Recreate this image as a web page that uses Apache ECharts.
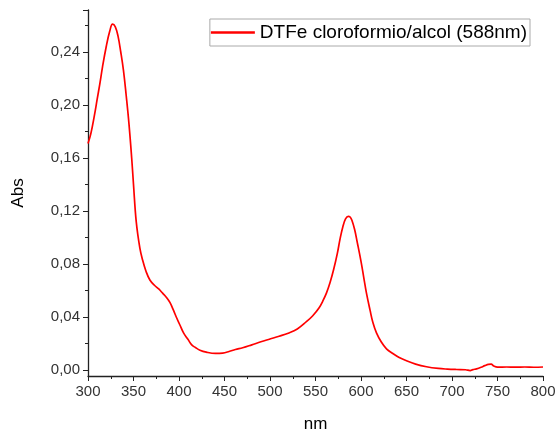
<!DOCTYPE html>
<html>
<head>
<meta charset="utf-8">
<script src="https://cdn.jsdelivr.net/npm/echarts@6/dist/echarts.min.js"></script>
<style>
  html, body { margin: 0; padding: 0; background: #fff; }
  #chart { width: 557px; height: 431px; }
</style>
</head>
<body>
<div id="chart"></div>
<script>
// espectro UV-Vis
var seriesName = 'DTFe cloroformio/alcol (588nm)';
var wavelength = [300, 303, 307, 310, 313, 316, 320, 324, 327, 330, 333, 336, 339, 342, 345, 348, 350, 353, 357, 360, 364, 368, 373, 378, 382, 386, 390, 394, 397, 401, 405, 410, 414, 418, 423, 430, 440, 448, 455, 462, 470, 480, 490, 500, 510, 520, 530, 540, 547, 554, 558, 562, 566, 570, 574, 577, 580, 583, 586, 588, 590, 593, 596, 600, 603, 606, 610, 613, 617, 622, 628, 635, 642, 650, 660, 672, 685, 695, 705, 715, 720, 723, 727, 732, 736, 740, 743, 746, 750, 760, 770, 780, 790, 800];
var absorb = [0.171, 0.178, 0.192, 0.204, 0.216, 0.229, 0.244, 0.256, 0.261, 0.259, 0.252, 0.240, 0.226, 0.207, 0.186, 0.160, 0.140, 0.112, 0.092, 0.083, 0.074, 0.068, 0.064, 0.061, 0.058, 0.055, 0.051, 0.045, 0.040, 0.034, 0.028, 0.023, 0.019, 0.017, 0.015, 0.0135, 0.0125, 0.0128, 0.014, 0.0155, 0.0168, 0.019, 0.0213, 0.0234, 0.0255, 0.0278, 0.0310, 0.0365, 0.041, 0.047, 0.052, 0.058, 0.066, 0.076, 0.088, 0.099, 0.108, 0.114, 0.116, 0.1155, 0.113, 0.106, 0.096, 0.082, 0.070, 0.058, 0.045, 0.036, 0.028, 0.0215, 0.016, 0.0125, 0.0095, 0.007, 0.0045, 0.0025, 0.0012, 0.0007, 0.0004, 0.0002, -0.0004, 0.0003, 0.0009, 0.0021, 0.0033, 0.0043, 0.0044, 0.0030, 0.0022, 0.0023, 0.0022, 0.0023, 0.0021, 0.0023];
var xTicks = { min: 300, max: 800, step: 50 };
var yRange = { min: -0.0045, max: 0.2717 };
var yTicks = { min: 0, step: 0.04 };

var data = wavelength.map(function (w, i) { return [w, absorb[i]]; });

var txt = '#333';
var font = 'Liberation Sans, Arial, sans-serif';
var axisCol = '#222';
// pixels per unit so both grids share the same scale
var plotTop = 10, plotBottom = 55, plotH = 431 - plotTop - plotBottom;
var pxPerUnit = plotH / (yRange.max - yRange.min);
var tickGridBottom = plotBottom + Math.round((yTicks.min - yRange.min) * pxPerUnit);

var chart = echarts.init(document.getElementById('chart'));
chart.setOption({
  animation: false,
  textStyle: { fontFamily: font },
  grid: [
    { left: 88, right: 14, top: plotTop, bottom: plotBottom, outerBoundsMode: 'none', containLabel: false },
    { left: 88, right: 14, top: plotTop, bottom: tickGridBottom, outerBoundsMode: 'none', containLabel: false }
  ],
  legend: {
    right: 27, top: 19,
    padding: [4, 3, 4, 1],
    itemWidth: 44, itemHeight: 14, itemGap: 4,
    borderColor: '#aaa', borderWidth: 1, borderRadius: 0,
    textStyle: { fontSize: 19, color: '#000', fontFamily: font },
    data: [{ name: seriesName, icon: 'path://M0,0 L1,0 L1,0.06 L0,0.06 Z' }]
  },
  xAxis: [{
    type: 'value', gridIndex: 0,
    min: xTicks.min, max: xTicks.max, interval: xTicks.step,
    name: 'nm', nameLocation: 'middle', nameGap: 40,
    nameTextStyle: { fontSize: 17, color: '#000' },
    splitLine: { show: false },
    axisLine: { onZero: false, lineStyle: { color: axisCol, width: 1.3 } },
    axisTick: { length: 5, lineStyle: { color: axisCol } },
    minorTick: { show: true, splitNumber: 2, length: 3, lineStyle: { color: axisCol } },
    axisLabel: { fontSize: 15, color: txt, margin: 8 }
  }, {
    type: 'value', gridIndex: 1, show: false,
    min: xTicks.min, max: xTicks.max
  }],
  yAxis: [{
    type: 'value', gridIndex: 0,
    min: yRange.min, max: yRange.max,
    name: 'Abs', nameLocation: 'middle', nameGap: 61, nameRotate: 90,
    nameTextStyle: { fontSize: 17, color: '#000' },
    splitLine: { show: false },
    axisLine: { show: true, onZero: false, lineStyle: { color: axisCol, width: 1.3 } },
    axisTick: { show: false },
    axisLabel: { show: false }
  }, {
    type: 'value', gridIndex: 1,
    min: yTicks.min, max: yRange.max, interval: yTicks.step,
    splitLine: { show: false },
    axisLine: { show: false },
    axisTick: { length: 5, lineStyle: { color: axisCol } },
    minorTick: { show: true, splitNumber: 2, length: 3, lineStyle: { color: axisCol } },
    axisLabel: {
      fontSize: 15, color: txt, margin: 8,
      formatter: function (v) {
        var k = v / yTicks.step;
        if (Math.abs(k - Math.round(k)) > 1e-6) return '';
        return v.toFixed(2).replace('.', ',');
      }
    }
  }],
  series: [{
    name: seriesName,
    type: 'line',
    xAxisIndex: 0, yAxisIndex: 0,
    data: data,
    smooth: 0.4,
    showSymbol: false,
    lineStyle: { color: '#ff0000', width: 1.7 },
    itemStyle: { color: '#ff0000' }
  }]
});
</script>
</body>
</html>
